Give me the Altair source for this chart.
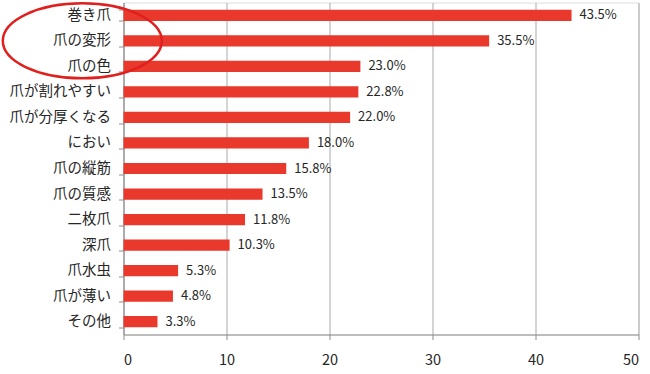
import altair as alt
import pandas as pd

categories = ["巻き爪", "爪の変形", "爪の色", "爪が割れやすい", "爪が分厚くなる", "におい",
              "爪の縦筋", "爪の質感", "二枚爪", "深爪", "爪水虫", "爪が薄い", "その他"]
values = [43.5, 35.5, 23.0, 22.8, 22.0, 18.0, 15.8, 13.5, 11.8, 10.3, 5.3, 4.8, 3.3]
x_ticks = [0, 10, 20, 30, 40, 50]

# highlighted categories (ellipse annotation around the top labels)
highlight_category = ["爪の変形"]
highlight_x = [-4.0]

df = pd.DataFrame({"cat": categories, "val": values,
                   "label": [f"{v:.1f}%" for v in values]})
hl = pd.DataFrame({"cat": highlight_category, "x": highlight_x})

FONT = "Noto Sans CJK JP"
TXT = "#262626"
W, H = 515, 332

yenc = alt.Y("cat:N", sort=categories,
             scale=alt.Scale(paddingInner=0.56, paddingOuter=0.28),
             axis=alt.Axis(title=None, domainColor="#8c8c8c", tickColor="#8c8c8c",
                           tickSize=5, tickBand="extent", labelPadding=8,
                           labelFontSize=14.5, labelFont=FONT, labelColor=TXT,
                           grid=False))
xscale = alt.Scale(domain=[0, 50], nice=False, zero=True)
xenc = alt.X("val:Q", scale=xscale,
             axis=alt.Axis(title=None, values=x_ticks, grid=True, gridColor="#a9a9a9",
                           domainColor="#8c8c8c", tickColor="#8c8c8c", tickSize=5,
                           labelFontSize=14.5, labelFont=FONT, labelColor=TXT,
                           labelPadding=14))

bars = alt.Chart(df).mark_bar(color="#e9392c").encode(x=xenc, y=yenc)
texts = alt.Chart(df).mark_text(align="left", baseline="middle", dx=8, fontSize=13,
                                font=FONT, color=TXT).encode(
    x=alt.X("val:Q", scale=xscale), y=alt.Y("cat:N", sort=categories), text="label:N")

ellipse_path = "M-1,0A1,0.472,0,1,0,1,0A1,0.472,0,1,0,-1,0Z"
ellipse = alt.Chart(hl).mark_point(shape=ellipse_path, size=25281, filled=False,
                                   stroke="#e0201e", strokeWidth=2.5, opacity=1).encode(
    x=alt.X("x:Q", scale=xscale), y=alt.Y("cat:N", sort=categories))

chart = alt.layer(bars, texts, ellipse).properties(
    width=W, height=H,
    autosize=alt.AutoSizeParams(type="none"),
    padding={"left": 123.5, "top": 2.5, "right": 11.5, "bottom": 39.5},
).configure_view(stroke=None).configure(background="white")

chart.save("out.html", embed_options={"renderer": "svg", "actions": False})
